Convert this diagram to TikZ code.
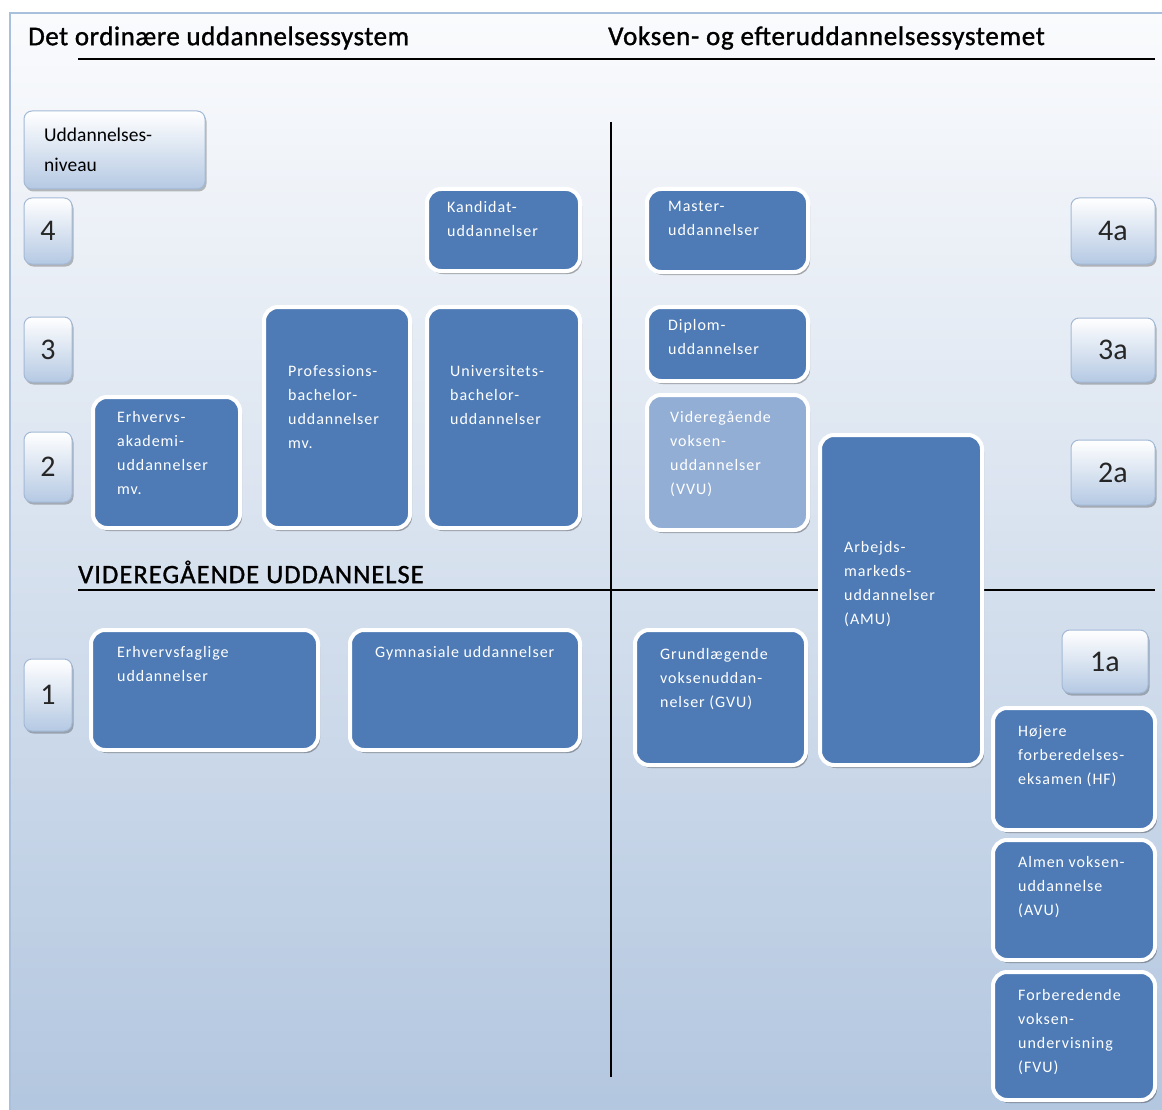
\documentclass[tikz,border=0pt]{standalone}
\usepackage{fontspec}
\setmainfont{Carlito}
\newfontfamily\boxfont[LetterSpace=6]{Carlito}
\newfontfamily\headfontA[LetterSpace=2,FakeBold=1.2]{Carlito}
\newfontfamily\headfontB[LetterSpace=2.6,FakeBold=1.2]{Carlito}
\newfontfamily\headfontC[LetterSpace=4,FakeBold=1.2]{Carlito}
\newfontfamily\lvlfont{Carlito}
\usetikzlibrary{shadows,calc}
\definecolor{boxblue}{HTML}{4E7BB5}
\definecolor{boxlight}{HTML}{93AED4}
\definecolor{framecol}{HTML}{A9C0DD}
\definecolor{lvlborder}{HTML}{A3B9D6}
\definecolor{lvlbot}{HTML}{B5C9E3}
\definecolor{bgtop}{HTML}{FAFBFD}
\definecolor{bgmid}{HTML}{DFE7F1}
\definecolor{bgbot}{HTML}{B2C6DF}
\tikzset{
  bbox/.style={draw=white, line width=4pt, fill=boxblue, rounded corners=14pt,
    anchor=north west, inner sep=0pt, outer sep=0pt,
    drop shadow={shadow xshift=2pt, shadow yshift=-3pt, fill=black, opacity=0.3}},
  btext/.style={anchor=north west, inner sep=0pt, align=left, text=white,
    font=\boxfont\fontsize{16}{24}\selectfont},
  lvl/.style={draw=lvlborder, line width=1pt, rounded corners=8pt,
    top color=white, bottom color=lvlbot, anchor=north west,
    inner sep=0pt, outer sep=0pt, text=black!85,
    drop shadow={shadow xshift=1.5pt, shadow yshift=-2.5pt, fill=black, opacity=0.25},
    font=\lvlfont\fontsize{30}{30}\selectfont},
  rulel/.style={line width=2.5pt, black},
  heading/.style={anchor=west, inner sep=0pt, text=black}
}
\begin{document}
\begin{tikzpicture}[x=1pt,y=-1pt]
\useasboundingbox (0,0) rectangle (1162,1110);
\begin{scope}
\clip (0,0) rectangle (1162,1110);
\shade[top color=bgtop, middle color=bgmid, bottom color=bgbot] (10,13) rectangle (1175,1125);
\draw[framecol, line width=1.5pt] (10,1125) -- (10,13) -- (1175,13);
\end{scope}

% headings
\node[heading, font=\headfontA\fontsize{27}{27}\selectfont] (h1) at (28,38) {Det ordinære uddannelsessystem};
\node[heading, font=\headfontB\fontsize{27}{27}\selectfont] (h2) at (608,38) {Voksen- og efteruddannelsessystemet};
\node[heading, font=\headfontC\fontsize{26.5}{26.5}\selectfont] (h3) at (78,572) {VIDEREGÅENDE UDDANNELSE};

% rules
\coordinate (t1) at (78,59); \coordinate (t2) at (1155,59);
\coordinate (m1) at (78,590); \coordinate (m2) at (1155,590);
\coordinate (v1) at (611,122); \coordinate (v2) at (611,1077);
\draw[rulel] (t1) -- (t2);
\draw[rulel] (m1) -- (m2);
\draw[rulel] (v1) -- (v2);

% level boxes
\node[lvl, minimum width=181, minimum height=78] (niv) at (24,111) {};
\node[anchor=north west, inner sep=0pt, align=left, font=\fontsize{19.5}{30}\selectfont] (nivt) at (44,128) {Uddannelses-\\niveau};
\node[lvl, minimum width=48, minimum height=66] (l4) at (24,198) {4};
\node[lvl, minimum width=48, minimum height=65] (l3) at (24,317) {3};
\node[lvl, minimum width=48, minimum height=70] (l2) at (24,432) {2};
\node[lvl, minimum width=48, minimum height=72] (l1) at (24,659) {1};
\node[lvl, minimum width=84, minimum height=66] (l4a) at (1071,198) {4a};
\node[lvl, minimum width=84, minimum height=64] (l3a) at (1071,318) {3a};
\node[lvl, minimum width=84, minimum height=65] (l2a) at (1071,440) {2a};
\node[lvl, minimum width=86, minimum height=63] (l1a) at (1062,630) {1a};

% blue boxes
\node[bbox, minimum width=153, minimum height=82] (kand) at (427,189) {};
\node[btext] (kandt) at (447,201) {Kandidat-\\uddannelser};
\node[bbox, minimum width=146, minimum height=221] (prof) at (264,307) {};
\node[btext] (proft) at (288,365) {Professions-\\bachelor-\\uddannelser\\mv.};
\node[bbox, minimum width=153, minimum height=221] (univ) at (427,307) {};
\node[btext] (univt) at (450,365) {Universitets-\\bachelor-\\uddannelser};
\node[bbox, minimum width=147, minimum height=131] (erhv) at (93,397) {};
\node[btext] (erhvt) at (117,411) {Erhvervs-\\akademi-\\uddannelser\\mv.};

\node[bbox, minimum width=161, minimum height=83] (mast) at (647,189) {};
\node[btext] (mastt) at (668,201) {Master-\\uddannelser};
\node[bbox, minimum width=161, minimum height=74] (dipl) at (647,307) {};
\node[btext] (diplt) at (668,319) {Diplom-\\uddannelser};
\node[bbox, fill=boxlight, minimum width=161, minimum height=135] (vvu) at (647,395) {};
\node[btext] (vvut) at (670,411) {Videregående\\voksen-\\uddannelser\\(VVU)};
\node[bbox, minimum width=162, minimum height=330] (amu) at (820,435) {};
\node[btext] (amut) at (844,541) {Arbejds-\\markeds-\\uddannelser\\(AMU)};

\node[bbox, minimum width=227, minimum height=120] (efag) at (91,630) {};
\node[btext] (efagt) at (117,646) {Erhvervsfaglige\\uddannelser};
\node[bbox, minimum width=230, minimum height=120] (gym) at (350,630) {};
\node[btext] (gymt) at (375,646) {Gymnasiale uddannelser};
\node[bbox, minimum width=171, minimum height=135] (gvu) at (635,630) {};
\node[btext] (gvut) at (660,648) {Grundlægende\\voksenuddan-\\nelser (GVU)};

\node[bbox, minimum width=162, minimum height=122] (hf) at (993,708) {};
\node[btext] (hft) at (1018,725) {Højere\\forberedelses-\\eksamen (HF)};
\node[bbox, minimum width=162, minimum height=120] (avu) at (993,840) {};
\node[btext] (avut) at (1018,856) {Almen voksen-\\uddannelse\\(AVU)};
\node[bbox, minimum width=162, minimum height=128] (fvu) at (993,972) {};
\node[btext] (fvut) at (1018,989) {Forberedende\\voksen-\\undervisning\\(FVU)};
\end{tikzpicture}
\end{document}
